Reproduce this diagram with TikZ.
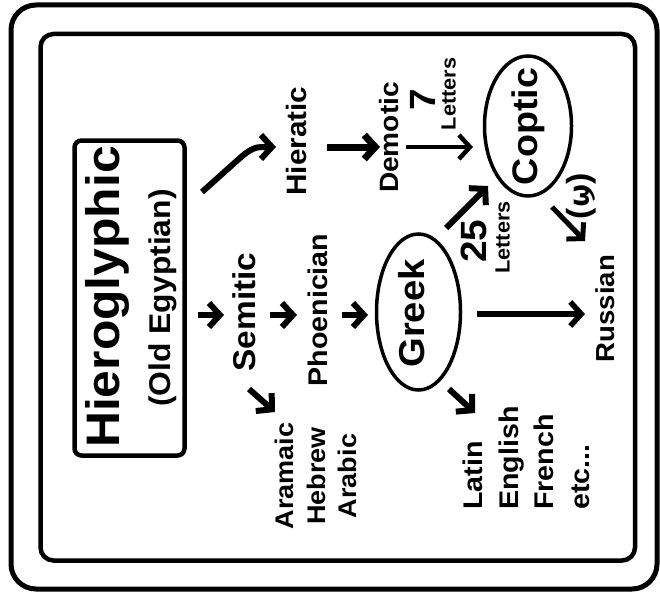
\documentclass[tikz,border=0pt]{standalone}
\usepackage{fontspec}
\setmainfont{Liberation Sans}[FakeStretch=1.06]
\newfontfamily\copticfont{DejaVu Sans}
\usetikzlibrary{arrows.meta,shapes.geometric}
\newcommand{\fsz}[2]{\fontsize{#1}{#2}\selectfont\bfseries}
\tikzset{
    lbl/.style={rotate=90,inner sep=0pt,anchor=base},
    arr/.style={line width=6pt,-{Straight Barb[length=11pt,width=24pt]}},
    oval/.style={ellipse,draw,line width=3.5pt,inner sep=0pt},
}
\begin{document}
\begin{tikzpicture}[x=1pt,y=-1pt]
    \useasboundingbox (0,0) rectangle (660,594);
    \draw[line width=5pt,rounded corners=25pt] (11,5) rectangle (657,589);
    \draw[line width=4.5pt,rounded corners=13pt] (40.5,34) rectangle (635,560.5);

    \node[draw,line width=4.5pt,rounded corners=7pt,minimum width=110pt,minimum height=315pt,inner sep=0pt] (hiero) at (129.5,298) {};
    \node[lbl,font=\fsz{47}{56}] (hieroname) at (119.5,297) {Hieroglyphic};
    \node[lbl,font=\fsz{30}{36}] (hierosub) at (170.5,298) {(Old Egyptian)};

    \node[lbl,font=\fsz{28}{34}] (hieratic) at (306.5,141) {Hieratic};
    \node[lbl,font=\fsz{26.5}{32}] (demotic) at (398.5,137.5) {Demotic};
    \node[lbl,font=\fsz{36.5}{44}] (seven) at (435.5,100) {7};
    \node[lbl,font=\fsz{20.5}{25}] (lettersa) at (455.5,94) {Letters};

    \node[lbl,font=\fsz{31.5}{38}] (semitic) at (255,312) {Semitic};
    \node[lbl,font=\fsz{27}{33}] (phoenician) at (327.5,310) {Phoenician};
    \node[lbl,anchor=north,align=center,font=\fsz{25.5}{31.5}] (aramaic) at (275,476) {Aramaic\\Hebrew\\Arabic};

    \node[oval,minimum width=84pt,minimum height=156pt] (greek) at (418.5,312) {};
    \node[lbl,font=\fsz{36}{44}] (greekname) at (424.5,313.5) {Greek};
    \node[lbl,anchor=north west,align=left,font=\fsz{27}{35.5}] (latin) at (463,510) {Latin\\English\\French\\etc...};

    \node[oval,minimum width=87pt,minimum height=140pt] (coptic) at (528,126) {};
    \node[lbl,font=\fsz{35.5}{43}] (copticname) at (537,126.5) {Coptic};
    \node[lbl,font=\fsz{36.5}{44}] (twentyfive) at (486.5,241) {25};
    \node[lbl,font=\fsz{20.5}{25}] (lettersb) at (509.5,237.5) {Letters};
    \node[lbl,font=\fsz{32}{38}] (shai) at (589,196) {({\copticfont\fsz{28}{34}ϣ})};
    \node[lbl,font=\fsz{26}{32}] (russian) at (614,308.5) {Russian};

    \draw[arr] ([shift={(72.5,-106)}]hiero.center) -- ++(38,-34) .. controls +(10,-9) and +(-6,0) .. ++(22,-11) -- ([shift={(-30.5,6)}]hieratic.base);
    \draw[arr,line width=7pt] ([shift={(20.5,6)}]hieratic.base) -- ([shift={(-18.5,9.5)}]demotic.base);
    \draw[arr,line width=4.5pt] ([shift={(7.5,9.5)}]demotic.base) -- ([shift={(-55,21)}]coptic.center);
    \draw[arr] ([shift={(68.5,17)}]hiero.center) -- ([shift={(-31,3)}]semitic.base);
    \draw[arr] ([shift={(15,3)}]semitic.base) -- ([shift={(-30.5,5)}]phoenician.base);
    \draw[arr] ([shift={(-6,77)}]semitic.base) -- ([shift={(0,-64)}]aramaic.north);
    \draw[arr] ([shift={(14.5,5)}]phoenician.base) -- ([shift={(-50.5,3)}]greek.center);
    \draw[arr,line width=5.5pt] ([shift={(58.5,2)}]greek.center) -- ([shift={(-29,5.5)}]russian.base);
    \draw[arr] ([shift={(30.5,77)}]greek.center) -- ([shift={(12,-97)}]latin.north west);
    \draw[arr] ([shift={(27.5,-84)}]greek.center) -- ([shift={(-40,60)}]coptic.center);
    \draw[arr,line width=5pt] ([shift={(24,81)}]coptic.center) -- ([shift={(-29,-67.5)}]russian.base);
\end{tikzpicture}
\end{document}
